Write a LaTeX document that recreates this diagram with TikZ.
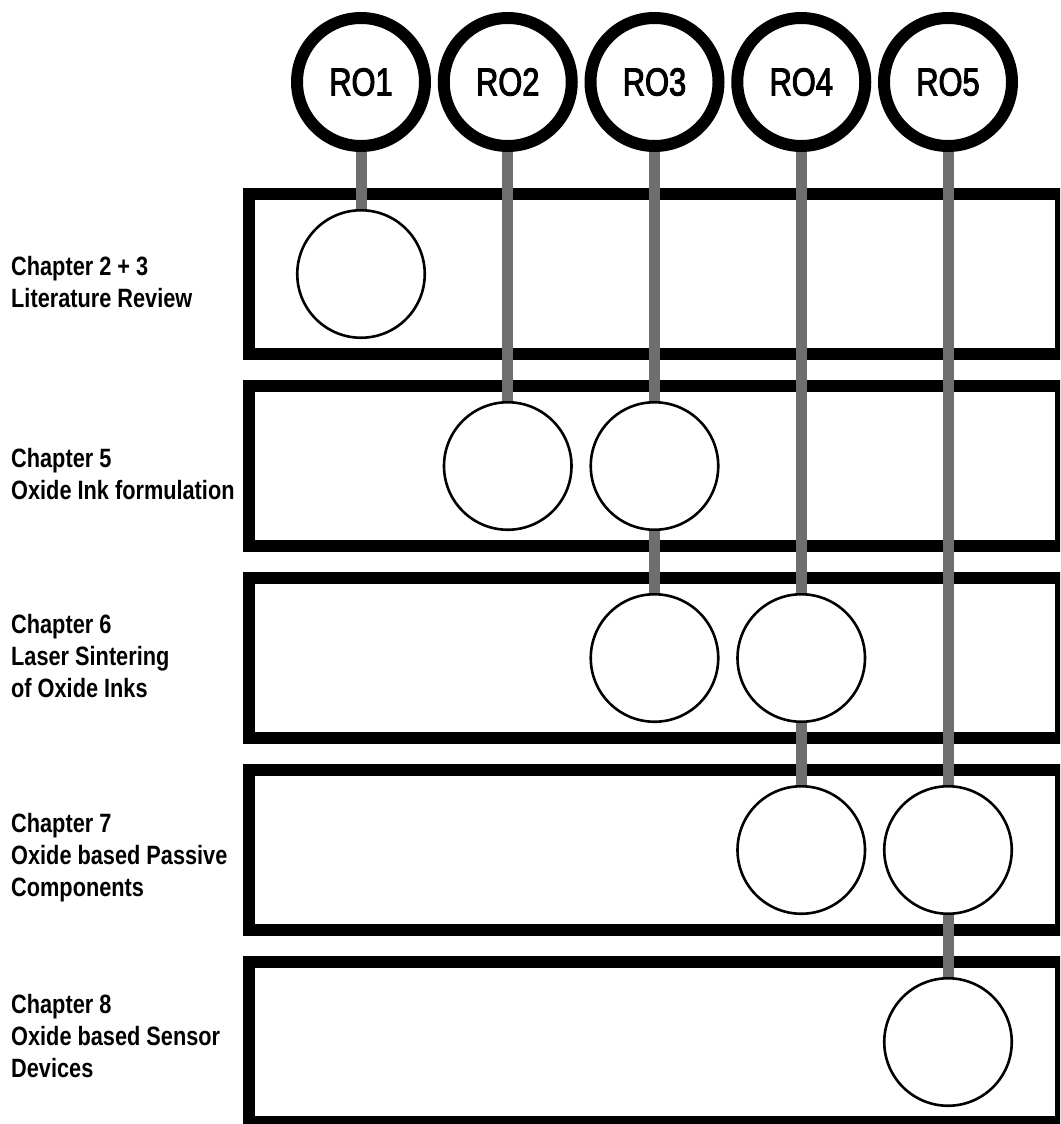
\documentclass[tikz,border=0pt]{standalone}
\usepackage{fontspec}
\newfontfamily\rofont[FakeStretch=0.79,FakeBold=2.5]{Liberation Sans}
\newfontfamily\labfont[FakeStretch=0.82]{Liberation Sans Bold}
\begin{document}
\begin{tikzpicture}[x=1pt,y=-1pt,
  chapbox/.style={draw=black,line width=12pt,fill=white,rectangle,minimum width=812pt,minimum height=160pt,inner sep=0pt},
  rocirc/.style={draw=black,line width=12pt,fill=white,circle,minimum size=128pt,inner sep=0pt,font=\rofont\fontsize{39}{39}\selectfont},
  dot/.style={draw=black,line width=2.6pt,fill=white,circle,minimum size=127.5pt,inner sep=0pt},
  conn/.style={draw=black!57,line width=11pt},
  lab/.style={anchor=base west,align=left,inner sep=0pt,font=\labfont\fontsize{26.5}{32}\selectfont}]
\useasboundingbox (0,0) rectangle (1060,1124);
\clip (0,0) rectangle (1060,1124);
% chapter boxes
\node[chapbox] (box1) at (655,274) {};
\node[chapbox] (box2) at (655,466) {};
\node[chapbox] (box3) at (655,658) {};
\node[chapbox] (box4) at (655,850) {};
\node[chapbox] (box5) at (655,1042) {};
% labels (base anchor = baseline of the last line)
\node[lab] (lab1) at (11,307) {Chapter 2 + 3\\Literature Review};
\node[lab] (lab2) at (11,499) {Chapter 5\\Oxide Ink formulation};
\node[lab] (lab3) at (11,697) {Chapter 6\\Laser Sintering\\of Oxide Inks};
\node[lab] (lab4) at (11,896) {Chapter 7\\Oxide based Passive\\Components};
\node[lab] (lab5) at (11,1077) {Chapter 8\\Oxide based Sensor\\Devices};
% research objectives
\node[rocirc] (ro1) at (361,82) {RO1};
\node[rocirc] (ro2) at (507.75,82) {RO2};
\node[rocirc] (ro3) at (654.5,82) {RO3};
\node[rocirc] (ro4) at (801.25,82) {RO4};
\node[rocirc] (ro5) at (948,82) {RO5};
% circles in boxes
\node[dot] (d11) at (361,274) {};
\node[dot] (d22) at (507.75,466) {};
\node[dot] (d23) at (654.5,466) {};
\node[dot] (d33) at (654.5,658) {};
\node[dot] (d34) at (801.25,658) {};
\node[dot] (d44) at (801.25,850) {};
\node[dot] (d45) at (948,850) {};
\node[dot] (d55) at (948,1042) {};
% connectors
\draw[conn] (ro1) -- (d11);
\draw[conn] (ro2) -- (d22);
\draw[conn] (ro3) -- (d23);
\draw[conn] (d23) -- (d33);
\draw[conn] (ro4) -- (d34);
\draw[conn] (d34) -- (d44);
\draw[conn] (ro5) -- (d45);
\draw[conn] (d45) -- (d55);
\end{tikzpicture}
\end{document}
